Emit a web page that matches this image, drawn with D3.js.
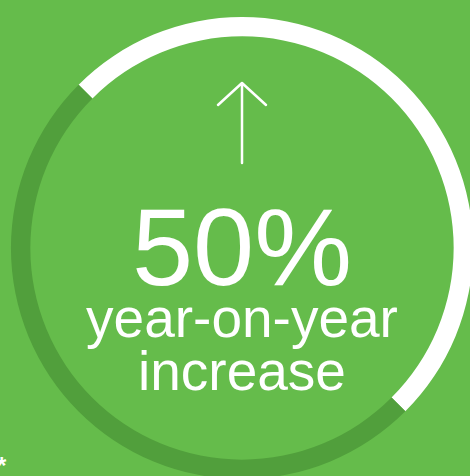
<!DOCTYPE html>
<html>
<head>
<meta charset="utf-8">
<script src="https://cdn.jsdelivr.net/npm/d3@7"></script>
<style>
  html, body { margin: 0; padding: 0; background: #65bc4b; overflow: hidden; }
  text { font-family: "Liberation Sans", Arial, sans-serif; fill: #fff; }
</style>
</head>
<body>
<svg id="chart"></svg>
<script>
(function(){

// share of the ring: increase vs rest
let segments = ["increase", "rest"];
let shares = [50, 50];
let headline = "50%";
let captionLines = ["year-on-year", "increase"];
let footnote = "*";

let width = 470, height = 476;
let cx = 242, cy = 248,
    innerR = 211.5, outerR = 231;

let colors = d3.scaleOrdinal()
  .domain(segments)
  .range(["#ffffff", "#519f3c"]);

let svg = d3.select("#chart")
  .attr("width", width)
  .attr("height", height);

svg.append("rect")
  .attr("width", width)
  .attr("height", height)
  .attr("fill", "#65bc4b");

let g = svg.append("g")
  .attr("transform", "translate(" + cx + "," + cy + ")");

let pie = d3.pie()
  .sort(null)
  .startAngle(-Math.PI / 4)
  .endAngle(2 * Math.PI - Math.PI / 4);

let arc = d3.arc()
  .innerRadius(innerR)
  .outerRadius(outerR);

let data = segments.map((s, i) => ({ key: s, value: shares[i] }));

g.selectAll("path.seg")
  .data(pie.value(d => d.value)(data))
  .enter()
  .append("path")
  .attr("class", "seg")
  .attr("d", arc)
  .attr("fill", d => colors(d.data.key));

// arrow pointing up
g.append("path")
  .attr("d", "M0,-85 L0,-165 M-24,-143 L0,-165 L24,-143")
  .attr("fill", "none")
  .attr("stroke", "#fff")
  .attr("stroke-width", 2.5)
  .attr("stroke-linecap", "round")
  .attr("stroke-linejoin", "round");

g.append("text")
  .attr("x", 0)
  .attr("y", 37)
  .attr("text-anchor", "middle")
  .style("font-size", "110px")
  .text(headline);

g.selectAll("text.cap")
  .data(captionLines)
  .enter()
  .append("text")
  .attr("class", "cap")
  .attr("x", 0)
  .attr("y", (d, i) => 89 + i * 53)
  .attr("text-anchor", "middle")
  .style("font-size", "55px")
  .text(d => d);

svg.append("text")
  .attr("x", -3)
  .attr("y", 474)
  .style("font-size", "24px")
  .style("font-weight", "bold")
  .text(footnote);

})();
</script>
</body>
</html>
